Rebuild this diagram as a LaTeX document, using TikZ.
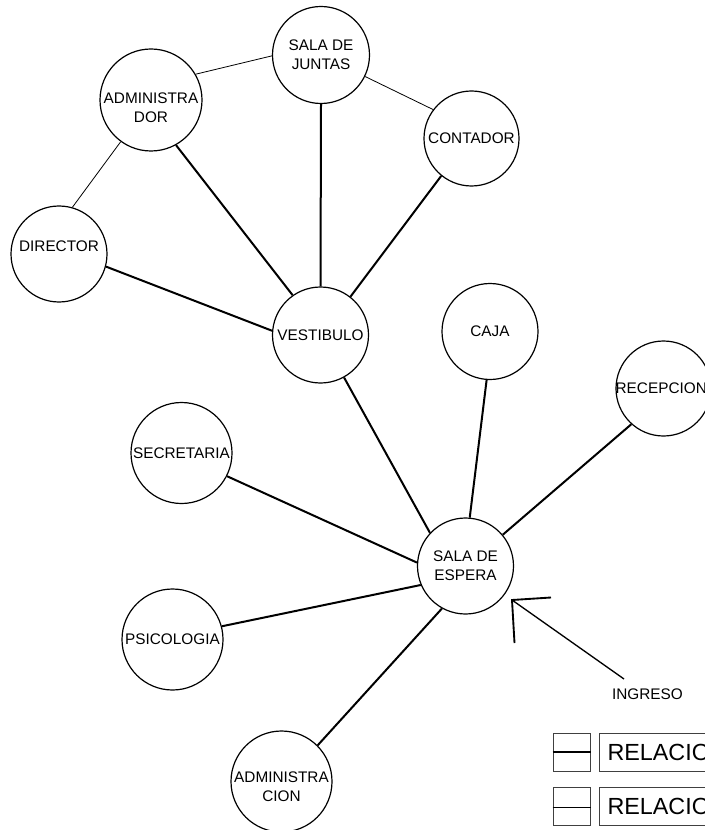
\documentclass[tikz,border=0pt]{standalone}
\usepackage{fontspec}
\setmainfont{Liberation Sans}
\newcommand\lblfont{\fontsize{11.5}{14.25}\selectfont}
\newcommand\legfont{\fontsize{17.5}{20}\selectfont}
\begin{document}
\begin{tikzpicture}[x=0.75pt,y=-0.75pt,
  room/.style={circle,draw,line width=0.9pt,inner sep=0pt},
  txt/.style={font=\lblfont,align=center,inner sep=0pt},
  strong/.style={line width=1.5pt},
  weak/.style={line width=0.6pt},
  legbox/.style={rectangle,draw=black!75,line width=0.75pt,minimum width=27.75pt,minimum height=28.5pt,inner sep=0pt},
  legtext/.style={rectangle,draw=black!75,line width=0.75pt,minimum height=28.5pt,inner xsep=6pt,inner ysep=0pt,font=\legfont,anchor=west}]
\useasboundingbox (0,0) rectangle (705,830);
\clip (0,0) rectangle (705,830);

% rooms
\node[room,minimum size=72.75pt] (jun) at (321,55) {};
\node[room,minimum size=76.5pt] (adm) at (151,100) {};
\node[room,minimum size=71.25pt] (con) at (471.5,138.5) {};
\node[room,minimum size=72pt] (dir) at (59,254) {};
\node[room,minimum size=72pt] (ves) at (320.5,335) {};
\node[room,minimum size=72pt] (caj) at (490,331.5) {};
\node[room,minimum size=71.25pt] (rec) at (663.5,388.5) {};
\node[room,minimum size=75.75pt] (sec) at (181.5,453) {};
\node[room,minimum size=72pt] (esp) at (465.5,566) {};
\node[room,minimum size=75.75pt] (psi) at (172.5,639.5) {};
\node[room,minimum size=75.75pt] (adc) at (281.5,781.5) {};

% labels
\node[txt] (junT) at (jun.center) {SALA DE\\JUNTAS};
\node[txt,yshift=-6pt] (admT) at (adm.center) {ADMINISTRA\\DOR};
\node[txt] (conT) at (con.center) {CONTADOR};
\node[txt,yshift=6pt] (dirT) at (dir.center) {DIRECTOR};
\node[txt] (vesT) at (ves.center) {VESTIBULO};
\node[txt] (cajT) at (caj.center) {CAJA};
\node[txt,anchor=west] (recT) at (rec.west) {RECEPCION};
\node[txt] (secT) at (sec.center) {SECRETARIA};
\node[txt] (espT) at (esp.center) {SALA DE\\ESPERA};
\node[txt] (psiT) at (psi.center) {PSICOLOGIA};
\node[txt,yshift=-4pt] (adcT) at (adc.center) {ADMINISTRA\\CION};

% weak relations
\draw[weak] (adm.30.4) -- (jun.181.2);
\draw[weak] (jun.-26) -- (con.143.5);
\draw[weak] (adm.234.2) -- (dir.74.5);

% strong relations
\draw[strong] (adm.-61.5) -- (ves.125.9);
\draw[strong] (jun.270) -- (ves.90);
\draw[strong] (con.231) -- (ves.52.9);
\draw[strong] (dir.-15.8) -- (ves.175.2);
\draw[strong] (ves.-61.3) -- (esp.137);
\draw[strong] (caj.266.4) -- (esp.85.7);
\draw[strong] (rec.228.3) -- (esp.40.3);
\draw[strong] (sec.-27.3) -- (esp.176.4);
\draw[strong] (psi.15.8) -- (esp.203.1);
\draw[strong] (adc.45.8) -- (esp.241.9);

% entrance arrow
\coordinate (tip) at (512,600);
\coordinate (barbA) at (551,597.5);
\coordinate (barbB) at (514.5,643);
\coordinate (tail) at (624,679);
\draw[line width=1.4pt,line join=miter] (barbA) -- (tip) -- (barbB);
\draw[line width=1pt] (tip) -- (tail);
\node[txt] (ing) at (647.5,694) {INGRESO};

% legend
\node[legbox] (lb1) at (571.5,752) {};
\draw[strong] (lb1.west) -- (lb1.east);
\node[legtext] (lt1) at (599,752) {RELACION};
\node[legbox] (lb2) at (571.5,806) {};
\draw[line width=0.75pt] ([yshift=-0.75pt]lb2.west) -- ([yshift=-0.75pt]lb2.east);
\node[legtext] (lt2) at (599,806) {RELACION};
\end{tikzpicture}
\end{document}
